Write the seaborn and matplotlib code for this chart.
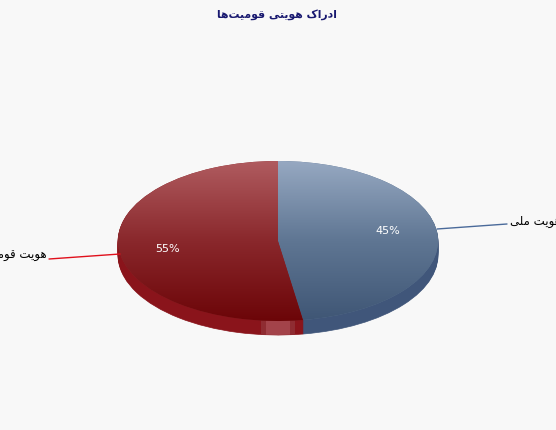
import matplotlib
matplotlib.use("Agg")
import matplotlib.pyplot as plt
import numpy as np
import seaborn as sns

# Data
title = "ادراک هویتی قومیت‌ها"
categories = ["هویت ملی", "هویت قومی"]
percent_labels = ["45%", "55%"]
# slice sizes as measured on the drawn pie, they differ a bit from the printed labels
slice_sizes = [47.5, 52.5]

# presentation forms: isolated, final, initial, medial
forms = {
    "ا": "\uFE8D\uFE8E", "د": "\uFEA9\uFEAA", "ر": "\uFEAD\uFEAE", "و": "\uFEED\uFEEE",
    "ک": "\uFB8E\uFB8F\uFB90\uFB91", "ه": "\uFEE9\uFEEA\uFEEB\uFEEC",
    "ی": "\uFBFC\uFBFD\uFBFE\uFBFF", "ت": "\uFE95\uFE96\uFE97\uFE98",
    "ق": "\uFED5\uFED6\uFED7\uFED8", "م": "\uFEE1\uFEE2\uFEE3\uFEE4",
    "ل": "\uFEDD\uFEDE\uFEDF\uFEE0",
}


# matplotlib does no arabic shaping, so join the letters by hand
def shape(text):
    out = []
    for i, ch in enumerate(text):
        if ch not in forms:
            if ch == " ":
                out.append(ch)
            continue
        prev = text[i - 1] if i > 0 else " "
        nxt = text[i + 1] if i < len(text) - 1 else " "
        joins_prev = prev in forms and len(forms[prev]) == 4
        joins_next = nxt in forms and len(forms[ch]) == 4
        f = forms[ch]
        if joins_prev and joins_next:
            out.append(f[3])
        elif joins_prev:
            out.append(f[1])
        elif joins_next:
            out.append(f[2])
        else:
            out.append(f[0])
    return "".join(out[::-1])


sns.set_theme(style="white")
plt.rcParams["font.family"] = ["DejaVu Sans"]

bg = "#f8f8f8"
fig, ax = plt.subplots(figsize=(5.56, 4.30), dpi=100, facecolor=bg)
fig.subplots_adjust(0, 0, 1, 1)

# pie centre at pixel (278, 241), radii 160 x 80, depth 14


def px(x):
    return (x - 278) / 160


def py(y):
    return (241 - y) / 80


blue_cmap = sns.blend_palette(["#3f5675", "#5f7693", "#97a9c2"], as_cmap=True)
red_cmap = sns.blend_palette(["#6c0508", "#8a282c", "#b05c60"], as_cmap=True)
ramp = np.linspace(1, 0, 256).reshape(-1, 1)

# side of the pie, stacked layers from the bottom up
bottom = None
for d in range(14, 0, -1):
    w, _ = ax.pie(slice_sizes, startangle=90, counterclock=False, radius=1,
                  center=(0, -d / 80), colors=["#40567a", "#8a141b"])
    for wedge in w:
        wedge.set_edgecolor(wedge.get_facecolor())
        wedge.set_linewidth(0.5)
    if bottom is None:
        bottom = w

# lighter band on the front of the side
for x0, x1, col in [(261, 295, "#8f2c32"), (266, 290, "#a3434a")]:
    band = ax.bar((px(x0) + px(x1)) / 2, py(310) - py(340), px(x1) - px(x0),
                  bottom=py(340), color=col, linewidth=0)[0]
    band.set_clip_path(bottom[1])

# top surface with the vertical gradient
top, _ = ax.pie(slice_sizes, startangle=90, counterclock=False, radius=1,
                center=(0, 0), colors=["#5f7693", "#8a282c"],
                wedgeprops={"linewidth": 0})
for wedge, cmap in zip(top, [blue_cmap, red_cmap]):
    im = ax.imshow(ramp, cmap=cmap, extent=(-1, 1, -1, 1), aspect="auto", zorder=3)
    im.set_clip_path(wedge)

ax.set_aspect("auto")
ax.set_xlim(px(0), px(556))
ax.set_ylim(py(430), py(0))
ax.axis("off")

# leader lines
ax.plot([px(437), px(507)], [py(229), py(224)], color="#4a6a9a", lw=1, zorder=4)
ax.plot([px(120), px(49)], [py(254), py(259)], color="#e0101c", lw=1, zorder=4)

# labels
ax.text(px(510), py(221), shape(categories[0]), ha="left", va="center",
        fontsize=8.5, color="black", zorder=5)
ax.text(px(47), py(255), shape(categories[1]), ha="right", va="center",
        fontsize=8.5, color="black", zorder=5)
ax.text(px(388), py(231), percent_labels[0], ha="center", va="center",
        fontsize=8, color="white", zorder=5)
ax.text(px(167), py(249), percent_labels[1], ha="center", va="center",
        fontsize=8, color="white", zorder=5)

ax.text(px(277), py(15), shape(title), ha="center", va="center",
        fontsize=7.8, fontweight="bold", color="#191970", zorder=5)

fig.savefig("out.png", dpi=100, facecolor=bg)
